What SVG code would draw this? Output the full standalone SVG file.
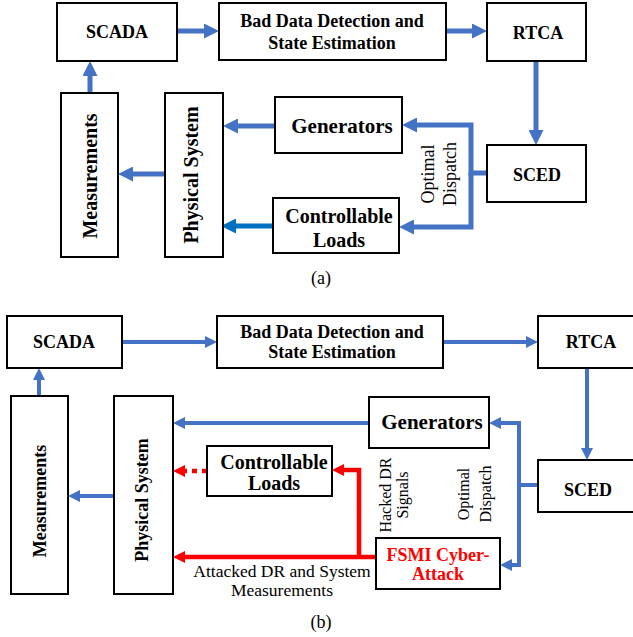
<svg xmlns="http://www.w3.org/2000/svg" width="633" height="637" viewBox="0 0 633 637">
<style>
.box{fill:#fff;stroke:#000;stroke-width:2}
.t{font-family:"Liberation Serif","Times New Roman",serif;font-weight:bold;text-anchor:middle;fill:#000}
.n{font-family:"Liberation Serif","Times New Roman",serif;text-anchor:middle;fill:#000}
.red{fill:#FF0000}
.ca{fill:none;stroke:#4472C4;stroke-width:5;marker-end:url(#ha)}
.cb{fill:none;stroke:#4472C4;stroke-width:4;marker-end:url(#hb)}
.cd{fill:none;stroke:#0070C0;stroke-width:5;marker-end:url(#hd)}
.cr{fill:none;stroke:#FF0000;stroke-width:4.5;marker-end:url(#hr)}
</style>
<defs>
<marker id="ha" markerUnits="userSpaceOnUse" markerWidth="15" markerHeight="15" viewBox="0 0 15 15" refX="2" refY="7.5" orient="auto"><path d="M0,0 L15,7.5 L0,15 z" fill="#4472C4"/></marker>
<marker id="hd" markerUnits="userSpaceOnUse" markerWidth="15" markerHeight="15" viewBox="0 0 15 15" refX="2" refY="7.5" orient="auto"><path d="M0,0 L15,7.5 L0,15 z" fill="#0070C0"/></marker>
<marker id="hb" markerUnits="userSpaceOnUse" markerWidth="12" markerHeight="12" viewBox="0 0 12 12" refX="2" refY="6" orient="auto"><path d="M0,0 L12,6 L0,12 z" fill="#4472C4"/></marker>
<marker id="hr" markerUnits="userSpaceOnUse" markerWidth="12" markerHeight="12" viewBox="0 0 12 12" refX="2" refY="6" orient="auto"><path d="M0,0 L12,6 L0,12 z" fill="#FF0000"/></marker>
</defs>

<g id="connectors">
<!-- (a) -->
<path class="ca" d="M177,31 H206"/>
<path class="ca" d="M446,31 H474"/>
<path class="ca" d="M536,61 V132"/>
<path class="ca" d="M90,93 V74"/>
<path class="ca" d="M165,174 H131"/>
<path class="ca" d="M275,126 H236"/>
<path class="cd" d="M273,226 H234"/>
<path class="ca" d="M487,173 H471 V125 H415"/>
<path class="ca" d="M471,173 V227 H412"/>
<!-- (b) -->
<path class="cb" d="M122,342 H207"/>
<path class="cb" d="M443,342 H528"/>
<path class="cb" d="M587,368 V450"/>
<path class="cb" d="M39,396 V378"/>
<path class="cb" d="M114,496 H78"/>
<path class="cb" d="M369,423 H183"/>
<path class="cb" d="M538,485 H519 V423 H499"/>
<path class="cb" d="M519,485 V565 H510"/>
<path class="cr" d="M207,471 H183" stroke-dasharray="5,5"/>
<path class="cr" d="M376,557 H183"/>
<path class="cr" d="M359,557 V470 H342"/>
</g>

<!-- (a) nodes -->
<g id="a-scada"><rect class="box" x="57" y="3" width="120" height="58"/><text class="t" x="117" y="38" font-size="18">SCADA</text></g>
<g id="a-bdd"><rect class="box" x="219" y="3" width="227" height="57"/><text class="t" x="332" y="27" font-size="18">Bad Data Detection and</text><text class="t" x="332" y="49" font-size="18">State Estimation</text></g>
<g id="a-rtca"><rect class="box" x="487" y="3" width="99" height="58"/><text class="t" x="538" y="39" font-size="18">RTCA</text></g>
<g id="a-sced"><rect class="box" x="487" y="145" width="99" height="57"/><text class="t" x="537" y="181" font-size="18">SCED</text></g>
<g id="a-gen"><rect class="box" x="275" y="97" width="127" height="56"/><text class="t" x="342" y="133" font-size="21">Generators</text></g>
<g id="a-loads"><rect class="box" x="273" y="198" width="126" height="55"/><text class="t" x="339" y="223" font-size="20">Controllable</text><text class="t" x="339" y="247" font-size="20">Loads</text></g>
<g id="a-meas"><rect class="box" x="61" y="93" width="57" height="164"/><text class="t" font-size="20" transform="translate(97,176) rotate(-90)">Measurements</text></g>
<g id="a-phys"><rect class="box" x="165" y="93" width="58" height="164"/><text class="t" font-size="20" transform="translate(198,175) rotate(-90)">Physical System</text></g>
<g id="a-labels">
<text class="n" font-size="18" transform="translate(434,174) rotate(-90)">Optimal</text>
<text class="n" font-size="18" transform="translate(456,174) rotate(-90)">Dispatch</text>
<text class="n" x="321" y="284" font-size="18">(a)</text>
</g>

<!-- (b) nodes -->
<g id="b-scada"><rect class="box" x="7" y="316" width="115" height="52"/><text class="t" x="64" y="348" font-size="18">SCADA</text></g>
<g id="b-bdd"><rect class="box" x="217" y="316" width="226" height="52"/><text class="t" x="332" y="338" font-size="18">Bad Data Detection and</text><text class="t" x="332" y="358" font-size="18">State Estimation</text></g>
<g id="b-rtca"><rect class="box" x="538" y="316" width="100" height="52"/><text class="t" x="591" y="348" font-size="18">RTCA</text></g>
<g id="b-sced"><rect class="box" x="538" y="460" width="100" height="52"/><text class="t" x="588" y="496" font-size="18">SCED</text></g>
<g id="b-gen"><rect class="box" x="369" y="397" width="120" height="51"/><text class="t" x="432" y="429" font-size="21">Generators</text></g>
<g id="b-loads"><rect class="box" x="207" y="446" width="125" height="50"/><text class="t" x="274" y="469" font-size="20">Controllable</text><text class="t" x="274" y="490" font-size="20">Loads</text></g>
<g id="b-fsmi"><rect class="box" x="376" y="538" width="124" height="51"/><text class="t red" x="438" y="561" font-size="18">FSMI Cyber-</text><text class="t red" x="438" y="580" font-size="18">Attack</text></g>
<g id="b-meas"><rect class="box" x="11" y="396" width="57" height="198"/><text class="t" font-size="18" transform="translate(46,501) rotate(-90)">Measurements</text></g>
<g id="b-phys"><rect class="box" x="114" y="396" width="59" height="198"/><text class="t" font-size="18" transform="translate(148,500) rotate(-90)">Physical System</text></g>
<g id="b-labels">
<text class="n" font-size="16" transform="translate(391,495) rotate(-90)">Hacked DR</text>
<text class="n" font-size="16" transform="translate(408,495) rotate(-90)">Signals</text>
<text class="n" font-size="16" transform="translate(469,494) rotate(-90)">Optimal</text>
<text class="n" font-size="16" transform="translate(491,494) rotate(-90)">Dispatch</text>
<text class="n" x="282" y="577" font-size="17.5">Attacked DR and System</text>
<text class="n" x="282" y="596" font-size="17.5">Measurements</text>
<text class="n" x="321" y="628" font-size="18">(b)</text>
</g>
</svg>
